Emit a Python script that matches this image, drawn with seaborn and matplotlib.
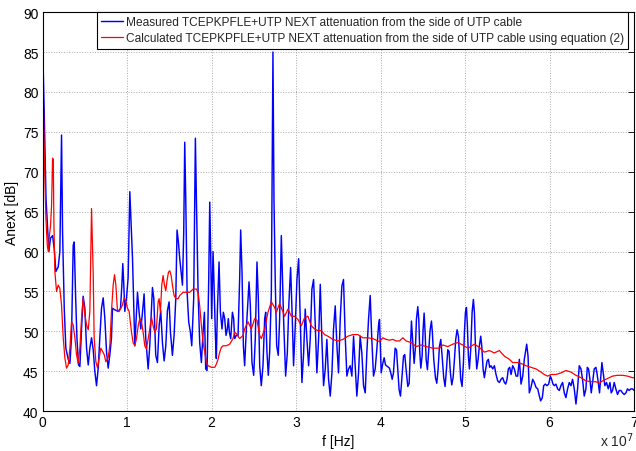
import numpy as np
import pandas as pd
import seaborn as sns
import matplotlib.pyplot as plt

sns.set_theme(style="whitegrid")
plt.rcParams['font.family'] = ['Liberation Sans', 'DejaVu Sans']

# measured curve, frequency in MHz, attenuation in dB
blue_mhz = [0.0, 0.2, 0.4, 0.55, 0.74, 0.94, 1.18, 1.37, 1.57, 1.85,
            2.04, 2.24, 2.36, 2.56, 2.75, 3.03, 3.23, 3.42, 3.62, 3.74,
            3.90, 4.06, 4.25, 4.41, 4.61, 4.80, 5.00, 5.20, 5.40, 5.59,
            5.79, 5.99, 6.18, 6.38, 6.58, 6.77, 6.97, 7.17, 7.36, 7.56,
            7.76, 7.96, 8.15, 8.27, 8.55, 8.94, 9.22, 9.38, 9.49, 9.61,
            9.73, 9.93, 10.12, 10.32, 10.64, 10.91, 11.11, 11.23, 11.42, 11.62,
            11.82, 12.01, 12.21, 12.49, 12.68, 13.00, 13.16, 13.39, 13.59, 13.79,
            13.98, 14.18, 14.38, 14.58, 14.77, 14.97, 15.13, 15.36, 15.56, 15.76,
            15.91, 16.07, 16.23, 16.43, 16.55, 16.70, 16.82, 16.94, 17.10, 17.29,
            17.49, 17.65, 17.88, 18.08, 18.20, 18.40, 18.59, 18.79, 18.99, 19.15,
            19.30, 19.46, 19.66, 19.78, 19.89, 20.01, 20.17, 20.29, 20.45, 20.56,
            20.68, 20.88, 21.04, 21.23, 21.39, 21.55, 21.71, 21.86, 21.98, 22.10,
            22.26, 22.46, 22.61, 22.73, 22.93, 23.13, 23.32, 23.44, 23.60, 23.76,
            23.91, 24.11, 24.31, 24.43, 24.58, 24.78, 24.98, 25.17, 25.37, 25.53,
            25.69, 25.88, 26.08, 26.28, 26.40, 26.55, 26.71, 26.87, 27.07, 27.26,
            27.38, 27.54, 27.70, 27.89, 28.05, 28.25, 28.52, 28.76, 28.96, 29.15,
            29.35, 29.55, 29.70, 29.90, 30.10, 30.30, 30.49, 30.69, 30.89, 31.08,
            31.28, 31.48, 31.67, 31.87, 32.07, 32.27, 32.46, 32.66, 32.86, 33.05,
            33.25, 33.45, 33.64, 33.84, 34.04, 34.24, 34.43, 34.63, 34.83, 35.02,
            35.22, 35.42, 35.61, 35.81, 36.01, 36.21, 36.40, 36.60, 36.80, 36.99,
            37.19, 37.39, 37.58, 37.78, 37.98, 38.18, 38.37, 38.57, 38.77, 38.96,
            39.16, 39.36, 39.56, 39.75, 39.87, 40.07, 40.26, 40.42, 40.58, 40.82,
            41.05, 41.25, 41.37, 41.52, 41.72, 41.88, 42.04, 42.19, 42.35, 42.51,
            42.71, 42.86, 43.02, 43.22, 43.38, 43.53, 43.65, 43.81, 43.97, 44.13,
            44.24, 44.40, 44.52, 44.64, 44.76, 44.91, 45.03, 45.15, 45.27, 45.39,
            45.54, 45.70, 45.86, 46.02, 46.13, 46.29, 46.49, 46.65, 46.80, 46.96,
            47.12, 47.28, 47.47, 47.63, 47.79, 47.95, 48.10, 48.26, 48.42, 48.58,
            48.74, 48.89, 49.05, 49.21, 49.33, 49.48, 49.64, 49.80, 49.92, 50.04,
            50.16, 50.27, 50.39, 50.51, 50.67, 50.83, 50.98, 51.10, 51.22, 51.38,
            51.54, 51.69, 51.85, 51.97, 52.13, 52.28, 52.44, 52.60, 52.76, 52.91,
            53.07, 53.27, 53.47, 53.66, 53.86, 54.06, 54.25, 54.45, 54.65, 54.81,
            54.96, 55.12, 55.28, 55.44, 55.63, 55.83, 56.03, 56.22, 56.42, 56.62,
            56.82, 57.01, 57.29, 57.45, 57.60, 57.80, 58.00, 58.19, 58.39, 58.59,
            58.79, 58.94, 59.14, 59.30, 59.49, 59.69, 59.89, 60.09, 60.24, 60.40,
            60.56, 60.75, 60.95, 61.15, 61.34, 61.54, 61.74, 61.93, 62.13, 62.33,
            62.53, 62.72, 62.92, 63.12, 63.31, 63.51, 63.71, 63.90, 64.10, 64.30,
            64.46, 64.61, 64.77, 64.93, 65.09, 65.28, 65.48, 65.60, 65.76, 65.91,
            66.07, 66.19, 66.39, 66.54, 66.74, 66.94, 67.14, 67.29, 67.45, 67.65,
            67.84, 68.04, 68.24, 68.44, 68.63, 68.83, 69.03, 69.22, 69.42, 69.62,
            69.82, 70.00]
blue_db = [86.0, 77.0, 66.7, 63.7, 60.0, 61.7, 62.0, 60.4, 57.5, 58.1,
           60.0, 74.6, 62.5, 52.9, 47.9, 46.5, 46.0, 49.2, 60.8, 61.2,
           54.6, 49.2, 45.8, 45.6, 50.4, 54.4, 52.9, 47.9, 45.8, 47.9,
           49.2, 47.7, 45.0, 43.2, 45.4, 49.2, 52.9, 54.2, 51.7, 47.5,
           45.4, 47.1, 49.2, 52.9, 52.7, 52.5, 52.9, 55.8, 58.5, 55.8,
           52.5, 54.2, 56.7, 67.5, 59.1, 48.2, 52.4, 54.9, 52.4, 50.3,
           52.4, 54.7, 49.1, 45.3, 48.2, 55.5, 54.1, 47.0, 46.1, 50.7,
           52.6, 48.6, 46.3, 48.2, 52.6, 53.7, 49.9, 47.0, 49.5, 54.1,
           62.7, 61.2, 59.1, 57.0, 55.8, 62.4, 73.7, 66.6, 54.9, 51.2,
           49.9, 48.2, 54.1, 74.2, 66.6, 54.9, 48.6, 46.1, 49.9, 52.4,
           45.3, 45.1, 56.6, 66.2, 60.0, 51.6, 60.0, 55.8, 49.5, 46.6,
           52.4, 58.7, 52.4, 50.3, 52.4, 51.6, 49.5, 50.3, 51.6, 49.9,
           49.1, 52.4, 51.6, 49.1, 49.5, 49.5, 56.6, 62.7, 57.4, 48.2,
           45.7, 50.3, 54.1, 56.2, 53.3, 46.1, 44.5, 49.1, 58.7, 54.1,
           45.7, 43.2, 45.7, 51.6, 52.4, 47.4, 44.5, 47.4, 54.9, 85.0,
           66.6, 55.8, 48.2, 47.0, 51.5, 62.0, 51.5, 44.4, 47.3, 53.6,
           58.0, 51.5, 45.7, 50.7, 56.5, 59.1, 51.5, 43.6, 47.3, 52.8,
           49.0, 45.7, 49.0, 55.3, 56.5, 50.7, 44.8, 49.0, 55.9, 49.0,
           43.2, 45.3, 49.0, 44.0, 41.9, 44.8, 50.3, 53.2, 48.2, 44.8,
           51.5, 55.7, 56.5, 49.4, 44.4, 45.3, 45.7, 44.4, 49.4, 45.7,
           41.9, 44.8, 49.4, 47.3, 43.2, 42.3, 47.3, 51.5, 54.5, 49.0,
           44.4, 45.3, 47.8, 50.7, 51.5, 44.8, 46.0, 46.7, 45.8, 45.6,
           45.4, 44.6, 44.0, 44.8, 47.9, 47.7, 45.2, 42.7, 41.9, 44.0,
           46.9, 47.1, 45.2, 43.1, 43.5, 47.7, 51.3, 48.6, 46.0, 48.1,
           51.5, 53.1, 51.5, 47.3, 45.4, 46.9, 50.2, 52.3, 49.8, 46.5,
           45.2, 47.7, 50.2, 51.3, 49.8, 46.5, 44.2, 43.5, 45.2, 48.1,
           49.0, 46.9, 44.2, 43.1, 45.2, 47.7, 47.5, 44.8, 43.3, 44.2,
           46.5, 49.0, 50.2, 49.4, 46.9, 44.0, 43.1, 46.0, 49.9, 52.4,
           53.0, 50.7, 46.9, 45.3, 47.8, 52.4, 54.0, 52.4, 48.2, 45.3,
           46.5, 48.2, 49.4, 48.2, 45.3, 44.2, 45.3, 46.3, 46.5, 45.5,
           45.7, 45.3, 45.7, 44.6, 43.8, 43.6, 44.0, 44.2, 43.6, 43.4,
           44.0, 45.3, 45.5, 44.6, 45.7, 45.3, 44.4, 44.4, 46.5, 43.4,
           44.4, 46.5, 48.4, 46.9, 42.3, 43.0, 44.0, 43.6, 43.0, 42.8,
           41.9, 41.3, 41.7, 43.2, 43.4, 43.2, 43.4, 44.4, 44.0, 43.4,
           43.2, 43.4, 42.8, 42.6, 43.2, 43.6, 42.3, 41.7, 42.8, 43.6,
           43.2, 44.0, 42.8, 40.9, 42.8, 45.7, 45.3, 44.0, 41.9, 42.8,
           45.5, 45.3, 44.0, 42.3, 43.6, 45.3, 45.5, 44.8, 43.6, 42.3,
           44.4, 46.1, 44.4, 43.2, 43.6, 42.8, 43.6, 42.3, 42.6, 43.6,
           42.8, 42.1, 42.6, 42.6, 42.3, 42.1, 42.3, 42.8, 42.6, 42.8,
           42.8, 42.6]

# calculated curve (equation 2)
red_mhz = [0.0, 0.2, 0.39, 0.55, 0.67, 0.78, 0.94, 1.06, 1.18, 1.26,
           1.34, 1.45, 1.65, 1.85, 2.04, 2.24, 2.44, 2.63, 2.83, 3.03,
           3.23, 3.42, 3.62, 3.82, 4.01, 4.21, 4.41, 4.61, 4.80, 5.00,
           5.20, 5.40, 5.59, 5.79, 5.99, 6.10, 6.30, 6.50, 6.70, 6.89,
           7.09, 7.29, 7.48, 7.76, 7.96, 8.15, 8.35, 8.51, 8.67, 8.86,
           9.06, 9.26, 9.45, 9.65, 9.85, 10.04, 10.24, 10.52, 10.71, 10.91,
           11.11, 11.31, 11.50, 11.70, 11.90, 12.09, 12.29, 12.49, 12.68, 12.88,
           13.08, 13.27, 13.47, 13.67, 13.79, 13.94, 14.10, 14.26, 14.42, 14.58,
           14.73, 14.89, 15.05, 15.21, 15.36, 15.56, 15.76, 16.03, 16.23, 16.62,
           17.02, 17.41, 17.81, 18.20, 18.40, 18.59, 18.79, 18.99, 19.19, 19.38,
           19.58, 19.97, 20.37, 20.56, 20.76, 20.96, 21.16, 21.35, 21.75, 22.14,
           22.53, 22.73, 22.93, 23.32, 23.72, 23.91, 24.31, 24.70, 25.10, 25.37,
           25.69, 25.88, 26.28, 26.67, 27.07, 27.46, 27.66, 28.05, 28.45, 28.64,
           29.04, 29.43, 29.82, 30.22, 30.61, 31.00, 31.40, 31.79, 32.19, 32.58,
           32.98, 33.37, 33.76, 34.35, 34.95, 35.54, 36.13, 36.72, 37.31, 37.90,
           38.49, 39.08, 39.87, 40.26, 40.66, 41.05, 41.45, 41.84, 42.23, 42.63,
           43.02, 43.61, 44.20, 44.80, 45.39, 46.17, 46.96, 47.36, 47.95, 48.54,
           49.13, 49.72, 50.31, 50.51, 51.10, 51.69, 52.28, 52.87, 53.46, 54.05,
           54.65, 55.24, 55.63, 56.22, 56.81, 57.21, 57.80, 58.39, 58.98, 59.37,
           59.77, 60.16, 60.75, 61.34, 61.93, 62.53, 63.12, 63.71, 64.30, 64.89,
           65.48, 65.88, 66.27, 66.86, 67.45, 68.04, 68.63, 69.22, 69.82, 70.0]
red_db = [84.0, 72.0, 64.2, 60.8, 60.0, 61.7, 63.3, 65.8, 71.7, 71.5,
          63.3, 57.5, 55.0, 55.8, 55.4, 53.3, 49.2, 46.7, 45.4, 45.8,
          47.9, 51.2, 50.8, 49.2, 47.1, 46.0, 47.9, 51.7, 54.2, 52.1,
          50.8, 50.2, 52.5, 65.4, 57.1, 49.2, 46.2, 45.4, 46.7, 47.9,
          47.5, 47.1, 46.2, 46.7, 48.3, 52.5, 55.8, 57.1, 55.8, 52.5,
          52.5, 52.9, 53.3, 54.2, 53.8, 52.9, 52.5, 49.9, 48.6, 48.2,
          49.1, 50.7, 51.6, 51.2, 49.9, 48.2, 47.8, 49.1, 50.3, 51.8,
          50.7, 49.9, 50.3, 53.7, 54.1, 52.4, 55.8, 57.0, 55.8, 55.1,
          56.4, 57.4, 57.6, 57.0, 55.8, 54.5, 54.1, 54.1, 54.5, 54.9,
          54.9, 54.9, 55.3, 55.3, 54.9, 53.2, 50.7, 48.6, 47.4, 46.1,
          45.7, 45.5, 45.5, 45.9, 46.5, 47.4, 48.0, 48.2, 48.2, 48.4,
          49.1, 49.9, 49.7, 49.1, 49.5, 50.3, 51.2, 50.3, 51.6, 51.4,
          49.5, 49.1, 50.3, 52.4, 53.7, 53.0, 52.4, 53.5, 52.4, 51.9,
          52.8, 51.9, 51.9, 51.5, 50.7, 51.7, 51.9, 50.7, 50.3, 50.1,
          50.1, 49.6, 49.4, 49.0, 48.8, 49.0, 49.4, 49.6, 49.6, 49.2,
          49.2, 49.1, 48.7, 49.2, 49.0, 48.9, 49.0, 48.8, 48.8, 49.2,
          48.8, 48.6, 48.1, 48.3, 48.1, 47.9, 47.9, 48.3, 48.1, 48.4,
          48.6, 48.3, 47.9, 48.0, 48.4, 48.0, 47.4, 47.6, 47.3, 47.6,
          46.9, 46.5, 46.1, 46.1, 45.9, 45.7, 45.5, 45.3, 44.9, 44.6,
          44.4, 44.6, 44.6, 44.8, 45.1, 44.9, 44.5, 44.2, 43.8, 43.7,
          43.7, 43.5, 43.8, 44.1, 44.4, 44.5, 44.5, 44.4, 44.2, 44.2]

x_ticks = [0, 1, 2, 3, 4, 5, 6, 7]   # x 10^7 Hz
y_ticks = [40, 45, 50, 55, 60, 65, 70, 75, 80, 85, 90]

measured_label = 'Measured TCEPKPFLE+UTP NEXT attenuation from the side of UTP cable'
calc_label = 'Calculated TCEPKPFLE+UTP NEXT attenuation from the side of UTP cable using equation (2)'

measured = pd.DataFrame({'f': np.array(blue_mhz) * 1e6, 'A': blue_db})
calculated = pd.DataFrame({'f': np.array(red_mhz) * 1e6, 'A': red_db})

fig = plt.figure(figsize=(6.36, 4.52), dpi=100)
ax = fig.add_axes([0.067, 0.088, 0.93, 0.883])

sns.lineplot(data=measured, x='f', y='A', color='#0000ff', lw=1.05,
             sort=False, estimator=None, label=measured_label, ax=ax)
sns.lineplot(data=calculated, x='f', y='A', color='#ff0000', lw=0.9,
             sort=False, estimator=None, label=calc_label, ax=ax)

ax.set_xlim(0, 7e7)
ax.set_ylim(40, 90)
ax.set_xticks(np.array(x_ticks) * 1e7)
ax.set_xticklabels([str(t) for t in x_ticks])
ax.set_yticks(y_ticks)
ax.set_facecolor('white')
ax.grid(True, ls=':', color='#a8a8a8', lw=0.7)
for s in ax.spines.values():
    s.set_color('black')
    s.set_linewidth(0.8)
ax.tick_params(direction='in', top=True, right=True, length=4, width=0.6,
               color='black', labelsize=10, pad=3, labelcolor='black')
ax.set_xlabel('f [Hz]', fontsize=10, labelpad=3, color='black')
ax.set_ylabel('Anext [dB]', fontsize=10, labelpad=3, color='black')
ax.text(1.0, -0.088, r'x 10$^7$', transform=ax.transAxes, ha='right',
        va='baseline', fontsize=10)

leg = ax.legend(loc='upper right', bbox_to_anchor=(0.99, 1.0), borderaxespad=0,
                fontsize=8.6, frameon=True, fancybox=False, framealpha=1,
                handlelength=1.9, handletextpad=0.2, labelspacing=0.35,
                borderpad=0.35)
leg.get_frame().set_edgecolor('black')
leg.get_frame().set_linewidth(0.8)

fig.savefig('out.png', dpi=100)
